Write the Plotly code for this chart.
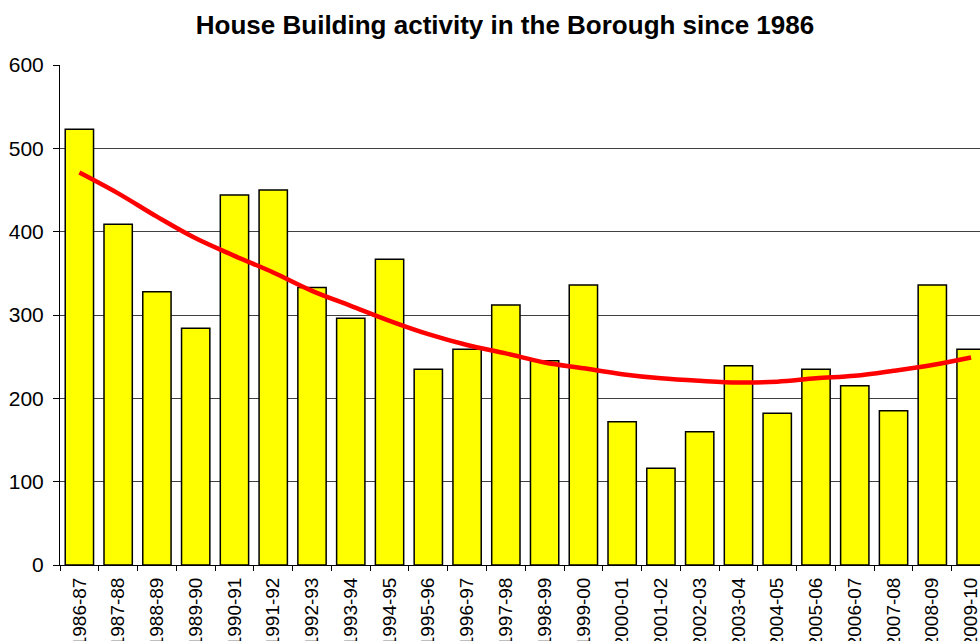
import plotly.graph_objects as go

categories = ["1986-87", "1987-88", "1988-89", "1989-90", "1990-91", "1991-92",
              "1992-93", "1993-94", "1994-95", "1995-96", "1996-97", "1997-98",
              "1998-99", "1999-00", "2000-01", "2001-02", "2002-03", "2003-04",
              "2004-05", "2005-06", "2006-07", "2007-08", "2008-09", "2009-10"]
completions = [523, 409, 328, 284, 444, 450, 333, 296, 367, 235, 259, 312,
               245, 336, 172, 116, 160, 239, 182, 235, 215, 185, 336, 259]
trend = [471, 446, 418, 392, 371, 351, 329, 311, 293, 277, 264, 254,
         243, 236, 229, 224, 221, 219, 220, 224, 227, 233, 240, 249]
y_ticks = [0, 100, 200, 300, 400, 500, 600]

FONT = "Liberation Sans, Arial, sans-serif"
W, H = 980, 641

fig = go.Figure()
fig.add_trace(go.Bar(
    x=categories, y=completions,
    marker=dict(color="#FFFF00", line=dict(color="#000000", width=1.5)),
    showlegend=False, hoverinfo="x+y",
))
fig.add_trace(go.Scatter(
    x=categories, y=trend, mode="lines",
    line=dict(color="#FF0000", width=4.5, shape="spline"),
    showlegend=False, hoverinfo="skip",
))

fig.update_layout(
    width=W, height=H,
    margin=dict(l=60, r=0, t=65, b=76, autoexpand=False),
    paper_bgcolor="white", plot_bgcolor="white",
    bargap=0.27,
    title=dict(text="<b>House Building activity in the Borough since 1986</b>",
               x=505 / W, xref="container", xanchor="center",
               y=1 - 25 / H, yref="container", yanchor="middle",
               font=dict(family=FONT, size=26, color="black")),
    font=dict(family=FONT, color="black"),
)
fig.update_xaxes(
    type="category", range=[-0.5, 23.23], tickangle=-90,
    tickson="boundaries", ticks="outside", ticklen=5, tickcolor="black",
    showline=True, linecolor="black", linewidth=1,
    showgrid=False, automargin=False, ticklabelstandoff=4,
    tickfont=dict(family=FONT, size=19, color="black"),
)
fig.update_yaxes(
    range=[0, 600], tickvals=y_ticks, ticks="outside", ticklen=6, tickcolor="black",
    showline=True, linecolor="black", linewidth=1,
    showgrid=True, gridcolor="#404040", gridwidth=1,
    zeroline=False, automargin=False, ticklabelstandoff=5,
    tickfont=dict(family=FONT, size=21, color="black"),
)

fig.write_html(
    "out.html",
    config={"displayModeBar": False},
    post_script="document.body.style.margin='0';document.body.style.overflow='hidden';",
)
